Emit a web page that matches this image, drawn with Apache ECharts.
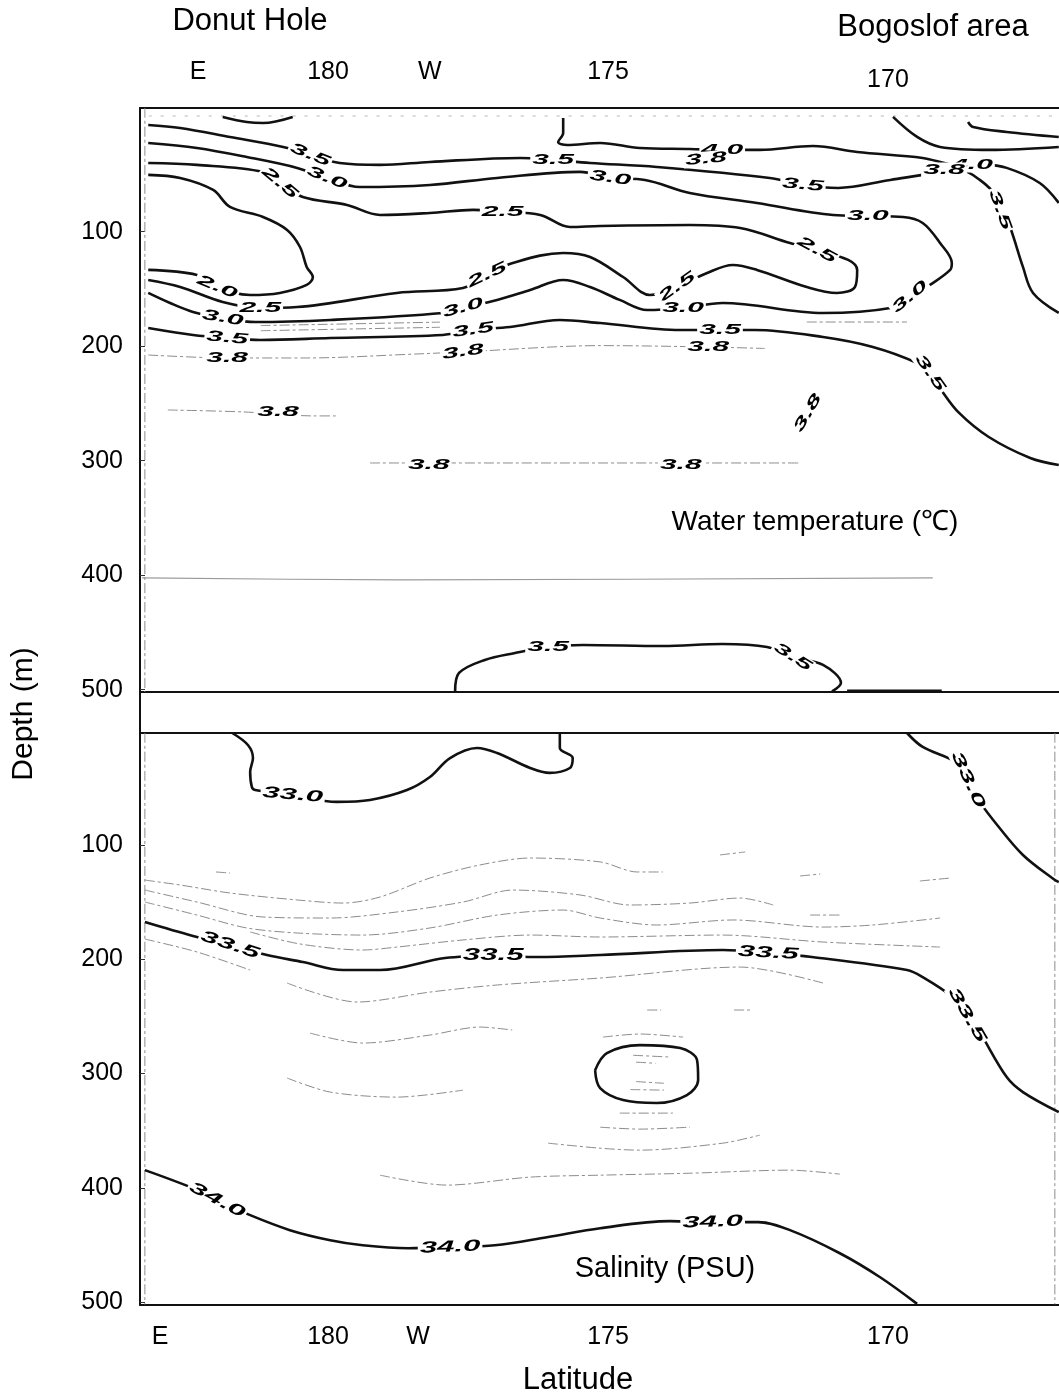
<!DOCTYPE html>
<html>
<head>
<meta charset="utf-8">
<script src="https://cdn.jsdelivr.net/npm/echarts@6/dist/echarts.min.js"></script>
<style>html,body{margin:0;padding:0;background:#fff}#c{width:1059px;height:1397px}</style>
</head>
<body>
<div id="c"></div>
<script>
// ---------- axis ticks ----------
const topTickValues = [182.32, 180, 178.18, 175];
const topTickLabels = ['E', '180', 'W', '175'];
const top2TickValues = [170];
const top2TickLabels = ['170'];
const bottomTickValues = [183.0, 180, 178.39, 175, 170];
const bottomTickLabels = ['E', '180', 'W', '175', '170'];
const depthTicks = [100, 200, 300, 400, 500];

// ---------- water temperature contours [lon (W-axis value), depth m] ----------
const T_CAP = [[181.88,-0.2],[181.45,4.2],[181.16,5.1],[180.63,-0.2]];
const T_40 = [[175.80,0.7],[175.80,13.8],[175.89,21.7],[175.73,24.3],[175.14,22.5],[174.43,26.9],[173.54,27.8],[172.96,28.6],[172.29,28.6],[171.34,25.2],[170.55,30.4],[169.38,35.6],[168.77,41.7],[168.27,41.7],[167.88,44.3],[167.29,57.5],[166.95,74.9]];
const T_TR1 = [[169.91,-0.2],[169.48,17.3],[169.07,26.0],[168.18,28.6],[166.95,26.0]];
const T_TR2 = [[168.57,4.2],[168.48,8.6],[167.88,12.9],[166.95,17.3]];
const T_35A = [[183.21,6.8],[182.64,9.4],[181.75,17.3],[180.80,26.0],[180.32,33.0],[179.79,40.0],[179.07,41.7],[178.18,39.1],[176.57,35.6],[175.98,37.4],[175.32,40.0],[174.13,43.5],[172.11,53.1],[171.52,59.2],[170.89,61.8],[169.96,54.8],[169.02,47.8],[168.71,46.1],[168.36,54.8],[168.05,69.7],[167.95,82.8],[167.82,95.9],[167.59,130.8],[167.41,153.5],[166.95,171.0]];
const T_30 = [[183.21,22.5],[182.34,26.9],[181.45,34.8],[180.55,44.3],[180.02,53.1],[179.43,61.0],[178.18,59.2],[176.98,53.1],[175.50,47.8],[174.96,53.1],[174.34,54.8],[173.54,66.2],[172.34,74.9],[170.98,85.4],[170.36,86.3],[169.73,87.2],[169.38,92.4],[169.07,109.9],[168.86,127.3],[168.89,133.4],[169.25,146.5],[169.61,157.0],[169.96,166.6],[171.16,171.0],[172.95,162.3],[173.66,166.6],[174.30,168.4],[174.79,159.6],[175.32,148.3],[175.80,142.2],[176.39,150.9],[176.98,159.6],[177.59,166.6],[177.95,171.0],[179.96,177.1],[181.30,178.9],[181.88,175.4],[182.41,170.1],[182.82,162.3],[183.21,153.5]];
const T_25 = [[183.21,40.0],[182.34,41.7],[181.16,47.8],[180.86,57.5],[180.45,69.7],[179.66,76.7],[179.07,85.4],[178.18,83.7],[177.41,81.0],[176.88,82.8],[176.21,85.4],[175.68,95.9],[175.14,95.0],[173.54,94.2],[172.64,96.8],[171.75,109.9],[171.27,116.0],[170.71,124.7],[170.55,133.4],[170.59,148.3],[170.91,153.5],[171.45,148.3],[172.34,133.4],[172.77,129.1],[173.23,136.1],[173.77,148.3],[174.25,155.3],[174.73,139.6],[175.32,122.1],[175.80,118.6],[176.70,127.3],[177.16,137.8],[177.59,149.2],[178.77,153.5],[180.55,165.8],[181.21,166.6],[181.88,161.4],[182.64,148.3],[183.21,142.2]];
const T_20 = [[183.21,50.4],[182.64,53.1],[182.05,63.6],[181.75,78.4],[181.16,87.2],[180.73,98.5],[180.50,113.4],[180.38,130.8],[180.27,139.6],[180.38,146.5],[180.86,153.5],[181.39,155.3],[181.98,148.3],[182.34,137.8],[183.21,133.4]];
const T_35B = [[183.21,184.1],[182.41,190.2],[181.80,192.9],[181.21,194.6],[179.96,192.9],[177.95,190.2],[177.41,185.9],[176.75,183.3],[175.86,177.1],[175.14,179.8],[173.71,185.9],[173.0,185.9],[172.38,185.9],[171.16,192.0],[170.27,200.7],[169.48,214.7],[169.25,223.4],[169.05,238.2],[168.73,258.3],[168.20,279.3],[167.46,297.6],[166.95,303.7]];
const T_35DOME = [[177.73,501.5],[177.66,485.4],[177.20,474.0],[176.66,467.9],[176.07,462.7],[175.45,460.9],[174.02,461.8],[172.96,460.1],[172.16,462.7],[171.70,471.4],[171.16,478.4],[170.84,494.1],[171.0,501.5]];
const T_BOT = [[170.73,501.0],[169.04,501.0]];
// faint / dashed temperature isolines
const T_SURF = [[183.2,-1],[167.0,-1]];
const T_38A = [[182.86,255.7],[181.52,257.4],[180.25,260.9],[179.84,260.9]];
const T_38B = [[179.25,302.0],[171.59,302.0]];
const T_38C = [[183.21,207.7],[181.80,210.3],[180.38,210.3],[178.41,206.8],[177.59,205.0],[175.14,199.5],[173.21,200.7],[172.2,202.0]];
const T_MID1 = [[181.2,182.0],[178.0,179.0]];
const T_MID2 = [[181.2,186.5],[178.0,183.5]];
const T_MID3 = [[171.45,178.9],[169.66,178.9]];
const T_EDGE = [[183.27,-8],[183.27,502]];
const T_400 = [[183.32,402.4],[178.68,404.0],[169.20,402.4]];

// ---------- salinity contours ----------
const S_330A = [[181.71,2],[181.43,12.5],[181.34,23.9],[181.39,36.1],[181.36,49.2],[181.30,51.9],[180.63,56.2],[179.84,62.3],[179.25,60.6],[178.59,51.9],[178.18,40.5],[177.82,23.9],[177.34,15.1],[176.98,19.5],[176.39,32.6],[176.04,36.9],[175.68,32.6],[175.63,23.9],[175.86,15.1],[175.86,2]];
const S_330B = [[169.66,2],[169.38,14.2],[168.77,28.2],[168.57,43.1],[168.36,62.3],[168.05,82.5],[167.59,108.7],[167.02,130.7],[166.95,132.4]];
const S_335 = [[183.27,167.4],[182.41,179.6],[181.75,187.5],[181.09,196.3],[180.45,202.4],[179.73,209.4],[179.07,209.4],[177.91,198.9],[177.05,197.1],[176.25,198.0],[175.14,196.3],[172.95,191.9],[172.14,194.5],[171.36,198.0],[169.66,209.4],[169.38,215.6],[168.84,233.1],[168.59,246.2],[168.36,263.7],[167.88,303.1],[167.59,316.2],[166.95,333.7]];
const S_LOOP = [[175.23,297.0],[175.02,282.1],[174.43,275.1],[173.71,277.7],[173.41,288.2],[173.39,305.7],[173.59,318.8],[174.13,325.8],[174.73,323.2],[175.14,312.7],[175.23,297.0]];
const S_340 = [[183.27,384.5],[182.46,399.4],[181.98,410.7],[181.39,423.9],[180.68,437.0],[179.96,445.8],[179.38,450.2],[178.57,452.8],[177.82,451.9],[177.02,450.2],[176.09,443.2],[175.14,435.3],[173.89,429.1],[173.13,430.0],[172.32,430.0],[171.75,437.0],[170.86,457.2],[170.14,478.2],[169.48,501.5]];
// thin salinity isolines
const S_A = [[183.27,130.7],[182.64,135.0],[181.75,142.0],[180.55,148.1],[179.73,150.8],[179.07,145.5],[178.18,128.9],[177.29,117.5],[176.39,111.4],[175.14,114.8],[174.48,123.6],[174.02,123.6]];
const S_A1 = [[173.0,108.7],[172.55,106.1]];
const S_A2 = [[171.57,127.1],[171.21,125.4]];
const S_A3 = [[169.43,131.5],[168.89,128.9]];
const S_A0 = [[182.0,123.6],[181.75,124.5]];
const S_B = [[183.27,139.4],[182.34,149.9],[181.16,163.0],[179.96,163.9],[178.77,158.6],[177.59,149.9],[176.70,139.4],[175.50,143.7],[174.61,152.5],[173.54,150.8],[172.64,146.4],[172.05,152.5]];
const S_B1 = [[171.39,161.3],[170.86,161.3]];
const S_C = [[183.27,149.9],[182.34,161.3],[181.45,172.6],[180.55,177.0],[179.38,178.8],[178.18,172.6],[176.98,161.3],[175.80,156.9],[175.14,163.9],[174.13,170.0],[172.77,165.6],[171.16,171.8],[170.27,170.0],[169.07,163.9]];
const S_E = [[181.39,176.1],[180.50,186.6],[179.38,191.9],[178.77,189.3],[177.59,183.1],[176.39,178.8],[175.14,180.5],[172.95,178.8],[171.16,184.9],[169.07,189.3]];
const S_F = [[183.27,182.3],[182.34,193.6],[181.39,209.4]];
const S_G = [[180.73,220.8],[179.48,237.4],[178.18,228.7],[176.98,222.5],[175.14,216.4],[172.64,206.8],[171.16,220.8]];
const S_G1 = [[174.3,244.4],[174.05,244.4]];
const S_G2 = [[172.75,244.4],[172.45,244.4]];
const S_I = [[180.32,264.6],[179.38,273.3],[178.18,266.3],[177.29,259.3],[176.71,261.9]];
const S_J = [[180.73,303.9],[179.96,316.2],[178.77,320.6],[177.59,314.5]];
const S_K = [[179.07,388.9],[177.88,397.6],[176.39,390.6],[175.14,388.9],[173.54,387.2],[171.75,384.5],[170.86,388.0]];
const S_L = [[176.07,360.9],[175.14,365.3],[174.43,367.0],[172.95,360.9],[172.29,353.9]];
const S_R1 = [[175.09,268.1],[174.43,265.4],[173.66,268.1]];
const S_R2 = [[174.79,334.6],[173.84,334.6]];
const S_R3 = [[175.14,346.9],[174.43,348.6],[173.54,346.9]];
const S_I1 = [[174.55,284.0],[173.90,285.5]];
const S_I2 = [[174.50,290.0],[174.15,291.0]];
const S_I3 = [[174.50,307.0],[174.00,308.5]];
const S_I4 = [[174.60,314.0],[174.00,314.5]];
const S_EDGE_L = [[183.27,2],[183.27,502]];
const S_EDGE_R = [[167.02,2],[167.02,502]];

// ---------- contour labels ----------
const tempLabelPos = [[180.32,33.0],[180.02,53.1],[180.86,57.5],[175.98,37.4],[174.96,53.1],[176.88,82.8],[172.96,28.6],[173.25,36.5],[171.52,59.2],[170.36,86.3],[168.5,41.7],[169.0,46.1],[168.0,81.0],[171.27,116.0],[173.77,148.3],[169.61,157.0],[173.66,166.6],[173.0,185.9],[173.21,200.7],[169.25,223.4],[177.16,137.8],[177.59,166.6],[177.41,185.9],[177.59,205.0],[181.98,148.3],[181.21,166.6],[181.88,175.4],[181.80,192.9],[181.80,210.3],[180.89,257.4],[171.43,258.3],[178.20,303.7],[173.70,303.7],[176.07,462.7],[171.70,471.4]];
const tempLabelText = ['3.5','3.0','2.5','3.5','3.0','2.5','4.0','3.8','3.5','3.0','4.0','3.8','3.5','2.5','2.5','3.0','3.0','3.5','3.8','3.5','2.5','3.0','3.5','3.8','2.0','2.5','3.0','3.5','3.8','3.8','3.8','3.8','3.8','3.5','3.5'];
const tempLabelAngle = [-22,-22,-40,0,-8,0,0,5,-5,0,0,0,-70,-28,35,40,0,0,0,-55,25,15,8,8,-22,0,-10,-5,0,0,60,0,0,0,-32];

const salLabelPos = [[180.63,56.2],[168.57,43.1],[181.75,187.5],[177.05,197.1],[172.14,194.5],[168.59,248.8],[181.98,410.7],[177.82,451.9],[173.13,430.0]];
const salLabelText = ['33.0','33.0','33.5','33.5','33.5','33.5','34.0','34.0','34.0'];
const salLabelAngle = [-5,-65,-18,0,-3,-60,-28,2,2];

const tempThick = [T_CAP, T_40, T_TR1, T_TR2, T_35A, T_30, T_25, T_20, T_35B, T_35DOME, T_BOT];
const tempThin = [T_38A, T_38B, T_38C, T_MID1, T_MID2, T_MID3, T_EDGE];
const tempDots = [T_SURF];
const tempFaint = [T_400];
const salThick = [S_330A, S_330B, S_335, S_LOOP, S_340];
const salThin = [S_A, S_A0, S_A1, S_A2, S_A3, S_B, S_B1, S_C, S_E, S_F, S_G, S_G1, S_G2, S_I, S_J, S_K, S_L, S_R1, S_R2, S_R3, S_I1, S_I2, S_I3, S_I4, S_EDGE_L, S_EDGE_R];

// ---------- build ----------
const FONT = '"Liberation Sans", Arial, Helvetica, sans-serif';
const XMIN = 166.946, XMAX = 183.357;
const panels = [{x: 0, y: 0}, {x: 2, y: 1}];

function lineSeries(data, p, kind) {
  const styles = {
    thick: {color: '#111', width: 2.6, type: 'solid'},
    faint: {color: '#9a9a9a', width: 1.2, type: 'solid'},
    thin:  {color: '#8c8c8c', width: 1, type: [10, 3, 3, 3]},
    dots:  {color: '#b5b5b5', width: 1, type: [3, 9]}
  };
  return {
    type: 'line', xAxisIndex: panels[p].x, yAxisIndex: panels[p].y,
    data: data, symbol: 'none', smooth: kind === 'thick' ? 0.35 : 0.3,
    lineStyle: styles[kind], silent: true, z: kind === 'thick' ? 3 : 2, animation: false
  };
}
function labelSeries(pos, texts, angles, p, fontSize, sx) {
  return {
    type: 'custom', xAxisIndex: panels[p].x, yAxisIndex: panels[p].y,
    silent: true, z: 10, animation: false, clip: false,
    data: pos,
    renderItem: function (params, api) {
      const pt = api.coord([api.value(0), api.value(1)]);
      const i = params.dataIndex;
      return {
        type: 'text', x: pt[0], y: pt[1],
        rotation: angles[i] * Math.PI / 180, scaleX: sx, scaleY: 1,
        style: {
          text: texts[i], fill: '#000',
          font: 'italic bold ' + fontSize + 'px ' + FONT,
          align: 'center', verticalAlign: 'middle',
          backgroundColor: '#fff', padding: [0, 1]
        }
      };
    }
  };
}
function fmt(vals, labels) {
  return function (v) {
    const i = vals.findIndex(t => Math.abs(t - v) < 1e-6);
    return i >= 0 ? labels[i] : '';
  };
}
const axisLbl = {color: '#000', fontSize: 25, fontFamily: FONT};
const frameLine = {show: true, onZero: false, lineStyle: {color: '#111', width: 2}};
const noLine = {show: false};

const series = [];
tempDots.forEach(d => series.push(lineSeries(d, 0, 'dots')));
tempFaint.forEach(d => series.push(lineSeries(d, 0, 'faint')));
tempThin.forEach(d => series.push(lineSeries(d, 0, 'thin')));
tempThick.forEach(d => series.push(lineSeries(d, 0, 'thick')));
salThin.forEach(d => series.push(lineSeries(d, 1, 'thin')));
salThick.forEach(d => series.push(lineSeries(d, 1, 'thick')));
series.push(labelSeries(tempLabelPos, tempLabelText, tempLabelAngle, 0, 15, 2.0));
series.push(labelSeries(salLabelPos, salLabelText, salLabelAngle, 1, 16, 1.95));

const xAx = (gi, pos, line, vals, labels, margin) => ({
  type: 'value', gridIndex: gi, position: pos, inverse: true, min: XMIN, max: XMAX,
  axisLine: line, axisTick: {show: false}, splitLine: {show: false},
  axisLabel: vals
    ? Object.assign({customValues: vals, formatter: fmt(vals, labels), margin: margin}, axisLbl)
    : {show: false}
});
const yAx = (gi, mn, mx) => ({
  type: 'value', gridIndex: gi, inverse: true, min: mn, max: mx,
  axisLine: frameLine, splitLine: {show: false},
  axisTick: {show: true, inside: true, length: 5, customValues: depthTicks, lineStyle: {color: '#333'}},
  axisLabel: Object.assign({customValues: depthTicks, margin: 17}, axisLbl)
});

const option = {
  backgroundColor: '#fff',
  animation: false,
  grid: [
    {left: 140, top: 108, right: 0, height: 584},
    {left: 140, top: 733, right: 0, height: 572}
  ],
  xAxis: [
    xAx(0, 'top', frameLine, topTickValues, topTickLabels, 23),
    xAx(0, 'top', noLine, top2TickValues, top2TickLabels, 15),
    xAx(1, 'bottom', frameLine, bottomTickValues, bottomTickLabels, 20),
    xAx(0, 'bottom', frameLine, null, null, 0),
    xAx(1, 'top', frameLine, null, null, 0)
  ],
  yAxis: [yAx(0, -8, 502), yAx(1, 2, 502.5)],
  graphic: [
    {type: 'text', x: 250, y: 21, style: {text: 'Donut Hole', font: '31px ' + FONT, fill: '#000', align: 'center', verticalAlign: 'middle'}},
    {type: 'text', x: 933, y: 27, style: {text: 'Bogoslof area', font: '31px ' + FONT, fill: '#000', align: 'center', verticalAlign: 'middle'}},
    {type: 'text', x: 815, y: 522, style: {text: 'Water temperature (℃)', font: '28px ' + FONT, fill: '#000', align: 'center', verticalAlign: 'middle'}, z: 20},
    {type: 'text', x: 665, y: 1269, style: {text: 'Salinity (PSU)', font: '29px ' + FONT, fill: '#000', align: 'center', verticalAlign: 'middle'}, z: 20},
    {type: 'text', x: 24, y: 714, rotation: Math.PI / 2, style: {text: 'Depth (m)', font: '30px ' + FONT, fill: '#000', align: 'center', verticalAlign: 'middle'}},
    {type: 'text', x: 578, y: 1380, style: {text: 'Latitude', font: '31px ' + FONT, fill: '#000', align: 'center', verticalAlign: 'middle'}},
    {type: 'line', shape: {x1: 140, y1: 692, x2: 140, y2: 733}, style: {stroke: '#111', lineWidth: 2}}
  ],
  series: series
};

const chart = echarts.init(document.getElementById('c'), null, {renderer: 'canvas'});
chart.setOption(option);
</script>
</body>
</html>
